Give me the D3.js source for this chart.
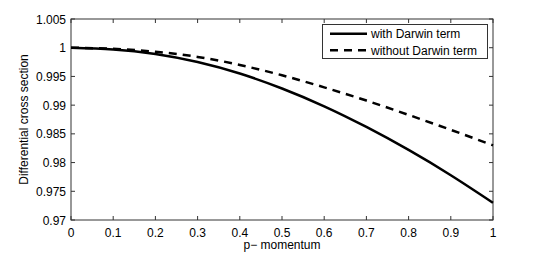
<!DOCTYPE html>
<html>
<head>
<meta charset="utf-8">
<script src="https://cdn.jsdelivr.net/npm/d3@7"></script>
<style>
  body { margin: 0; background: #fff; }
  text { font-family: "Liberation Sans", Arial, sans-serif; font-size: 12px; fill: #000; }
</style>
</head>
<body>
<svg id="chart" width="545" height="254"></svg>
<script>
const momentum = [0, 0.1, 0.2, 0.3, 0.4, 0.5, 0.6, 0.7, 0.8, 0.9, 1]
const withDarwin = [1, 0.9997, 0.9989, 0.9975, 0.9955, 0.9929, 0.9898, 0.9862, 0.9822, 0.9778, 0.973]
const withoutDarwin = [1, 0.9998, 0.9993, 0.9984, 0.997, 0.9952, 0.9931, 0.9908, 0.9883, 0.9857, 0.983]
const xTicks = [0, 0.1, 0.2, 0.3, 0.4, 0.5, 0.6, 0.7, 0.8, 0.9, 1]
const yTicks = [0.97, 0.975, 0.98, 0.985, 0.99, 0.995, 1, 1.005]
const seriesNames = ['with Darwin term', 'without Darwin term']

const svg = d3.select('#chart')
const plot = { left: 71, right: 493, top: 19, bottom: 220 }

const x = d3.scaleLinear().domain([0, 1]).range([plot.left, plot.right])
const y = d3.scaleLinear().domain([0.97, 1.005]).range([plot.bottom, plot.top])

const axisColor = '#333'

// box
svg.append('rect')
  .attr('x', plot.left).attr('y', plot.top)
  .attr('width', plot.right - plot.left).attr('height', plot.bottom - plot.top)
  .style('fill', 'none').style('stroke', axisColor).style('stroke-width', 1)

// inward ticks, mirrored on top and right
const tickLen = 4
const fmt = d => String(+d.toFixed(3))
svg.selectAll('.xtick').data(xTicks).enter().append('path')
  .attr('d', d => `M${x(d)},${plot.bottom}v${-tickLen}M${x(d)},${plot.top}v${tickLen}`)
  .style('stroke', axisColor)
svg.selectAll('.ytick').data(yTicks).enter().append('path')
  .attr('d', d => `M${plot.left},${y(d)}h${tickLen}M${plot.right},${y(d)}h${-tickLen}`)
  .style('stroke', axisColor)

svg.selectAll('.xlab').data(xTicks).enter().append('text')
  .attr('x', d => x(d)).attr('y', plot.bottom + 16.5)
  .attr('text-anchor', 'middle')
  .text(fmt)
svg.selectAll('.ylab').data(yTicks).enter().append('text')
  .attr('x', plot.left - 5).attr('y', d => y(d) + 4.5)
  .attr('text-anchor', 'end')
  .text(fmt)

svg.append('text')
  .attr('x', (plot.left + plot.right) / 2).attr('y', 249)
  .attr('text-anchor', 'middle')
  .text('p\u2212 momentum')
svg.append('text')
  .attr('transform', `translate(28,${(plot.top + plot.bottom) / 2}) rotate(-90)`)
  .attr('text-anchor', 'middle')
  .text('Differential cross section')

const line = d3.line()
  .x((d, i) => x(momentum[i]))
  .y(d => y(d))
  .curve(d3.curveNatural)

svg.append('path')
  .attr('d', line(withDarwin))
  .style('fill', 'none').style('stroke', '#000').style('stroke-width', 2.5)
svg.append('path')
  .attr('d', line(withoutDarwin))
  .style('fill', 'none').style('stroke', '#000').style('stroke-width', 2.5)
  .style('stroke-dasharray', '8,6')

// legend
const lg = svg.append('g')
lg.append('rect')
  .attr('x', 322.5).attr('y', 24.5).attr('width', 165).attr('height', 34)
  .style('fill', '#fff').style('stroke', axisColor)
seriesNames.forEach((name, i) => {
  const ly = 33.7 + i * 16.5
  lg.append('line')
    .attr('x1', 330).attr('x2', 367).attr('y1', ly).attr('y2', ly)
    .style('stroke', '#000').style('stroke-width', 2.5)
    .style('stroke-dasharray', i === 1 ? '8,6' : null)
  lg.append('text')
    .attr('x', 371).attr('y', ly + 4.5)
    .text(name)
})
</script>
</body>
</html>
